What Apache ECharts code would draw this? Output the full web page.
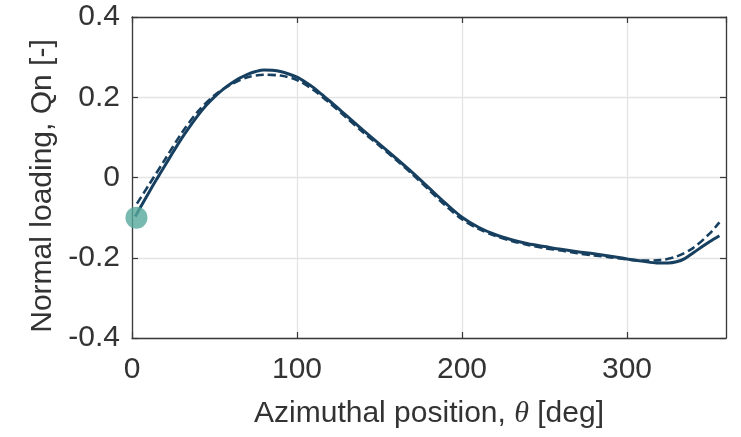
<!DOCTYPE html>
<html>
<head>
<meta charset="utf-8">
<script src="https://cdn.jsdelivr.net/npm/echarts@6/dist/echarts.min.js"></script>
<style>
  html, body { margin: 0; padding: 0; background: #fff; }
  #chart { width: 741px; height: 437px; }
</style>
</head>
<body>
<div id="chart"></div>
<script>
// 实测曲线 (solid)
var thetaSolid = [2, 6, 10, 15, 20, 25, 30, 35, 40, 45, 50, 55, 60, 65, 70, 75, 80, 85, 90, 95, 100, 105, 110, 115, 120, 125, 130, 140, 150, 160, 170, 180, 190, 200, 210, 220, 230, 240, 250, 260, 270, 280, 290, 300, 310, 318, 325, 330, 335, 340, 345, 350, 356];
var loadSolid = [-0.097, -0.068, -0.039, -0.004, 0.03, 0.064, 0.097, 0.127, 0.155, 0.18, 0.201, 0.219, 0.234, 0.247, 0.257, 0.264, 0.268, 0.267, 0.264, 0.258, 0.25, 0.238, 0.224, 0.207, 0.19, 0.172, 0.154, 0.118, 0.083, 0.048, 0.012, -0.026, -0.064, -0.099, -0.124, -0.142, -0.155, -0.165, -0.172, -0.179, -0.185, -0.19, -0.196, -0.203, -0.209, -0.213, -0.213, -0.21, -0.202, -0.188, -0.174, -0.16, -0.145];

// 计算曲线 (dashed)
var thetaDash = [3, 10, 20, 30, 40, 50, 60, 70, 80, 90, 100, 110, 120, 130, 140, 150, 160, 170, 180, 190, 200, 210, 220, 230, 240, 250, 260, 270, 280, 290, 300, 310, 320, 330, 340, 350, 356];
var loadDash = [-0.065, -0.02, 0.045, 0.11, 0.165, 0.205, 0.232, 0.25, 0.256, 0.254, 0.243, 0.218, 0.185, 0.149, 0.113, 0.079, 0.044, 0.008, -0.031, -0.07, -0.104, -0.128, -0.145, -0.158, -0.168, -0.176, -0.182, -0.189, -0.194, -0.199, -0.204, -0.207, -0.206, -0.197, -0.176, -0.14, -0.112];

// 起点标记
var startPoint = [2.7, -0.1];

var xTicks = [0, 100, 200, 300];
var yTicks = [-0.4, -0.2, 0, 0.2, 0.4];

var lineColor = '#173f5f';
var frameColor = '#3a3a3a';
var textColor = '#333333';
var font = 'Liberation Sans, Arial, Helvetica, sans-serif';

let toPairs = (xs, ys) => xs.map((x, i) => [x, ys[i]]);

let chart = echarts.init(document.getElementById('chart'));

let frameAxis = {
    axisLine: { show: true, onZero: false, lineStyle: { color: frameColor, width: 1.3 } },
    axisTick: { show: true, inside: true, length: 6, lineStyle: { color: frameColor, width: 1.2 } }
};

let option = {
    animation: false,
    backgroundColor: '#ffffff',
    grid: { left: 132, right: 15, top: 17, bottom: 99 },
    xAxis: [{
        type: 'value',
        min: 0,
        max: 360,
        interval: 100,
        name: 'Azimuthal position, {i|θ} [deg]',
        nameLocation: 'middle',
        nameGap: 61,
        nameTextStyle: {
            fontFamily: font, fontSize: 30, color: textColor,
            rich: { i: { fontFamily: 'Liberation Serif, DejaVu Serif, serif', fontStyle: 'italic', fontSize: 30, color: textColor } }
        },
        axisLine: frameAxis.axisLine,
        axisTick: frameAxis.axisTick,
        axisLabel: {
            fontFamily: font, fontSize: 30, color: textColor, margin: 17,
            showMaxLabel: false,
            formatter: v => (xTicks.indexOf(v) >= 0 ? String(v) : '')
        },
        splitLine: { show: true, lineStyle: { color: '#e3e3e3', width: 1.3 } }
    }, {
        type: 'value',
        position: 'top',
        min: 0,
        max: 360,
        interval: 100,
        axisLine: frameAxis.axisLine,
        axisTick: frameAxis.axisTick,
        axisLabel: { show: false },
        splitLine: { show: false }
    }],
    yAxis: [{
        type: 'value',
        min: -0.4,
        max: 0.4,
        interval: 0.2,
        name: 'Normal loading, Qn [-]',
        nameLocation: 'middle',
        nameGap: 66,
        nameTextStyle: { fontFamily: font, fontSize: 30, color: textColor, padding: [0, 17, 0, 0] },
        axisLine: frameAxis.axisLine,
        axisTick: frameAxis.axisTick,
        axisLabel: {
            fontFamily: font, fontSize: 30, color: textColor, margin: 12,
            formatter: v => {
                let r = Math.round(v * 10) / 10;
                return r === 0 ? '0' : String(r);
            }
        },
        splitLine: { show: true, lineStyle: { color: '#e3e3e3', width: 1.3 } }
    }, {
        type: 'value',
        position: 'right',
        min: -0.4,
        max: 0.4,
        interval: 0.2,
        axisLine: frameAxis.axisLine,
        axisTick: frameAxis.axisTick,
        axisLabel: { show: false },
        splitLine: { show: false }
    }],
    series: [{
        name: 'dashed',
        type: 'line',
        data: toPairs(thetaDash, loadDash),
        smooth: 0.3,
        showSymbol: false,
        lineStyle: { color: lineColor, width: 2.6, type: [8, 4] },
        z: 3
    }, {
        name: 'solid',
        type: 'line',
        data: toPairs(thetaSolid, loadSolid),
        smooth: 0.3,
        showSymbol: false,
        lineStyle: { color: lineColor, width: 3 },
        z: 4
    }, {
        name: 'start',
        type: 'scatter',
        data: [startPoint],
        symbolSize: 22,
        itemStyle: { color: '#56a99c' },
        z: 5
    }]
};

chart.setOption(option);
</script>
</body>
</html>
